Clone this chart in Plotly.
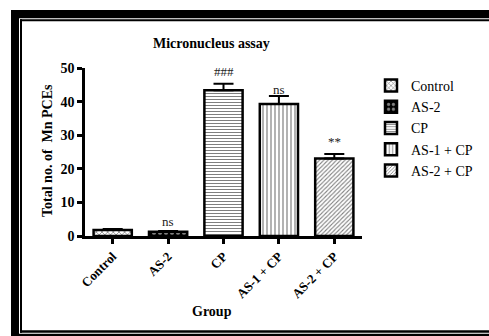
import plotly.graph_objects as go

groups = ["Control", "AS-2", "CP", "AS-1 + CP", "AS-2 + CP"]
means = [1.8, 1.3, 43.4, 39.3, 23.1]
errors = [0.25, 0.2, 1.9, 2.4, 1.3]
sig_labels = ["", "ns", "###", "ns", "**"]
sig_y = [None, 4.3, 49.1, 43.7, 28.1]
y_ticks = [0, 10, 20, 30, 40, 50]

patterns = [
    dict(shape="x", size=4, solidity=0.35, fgcolor="black", bgcolor="white"),
    dict(shape=".", size=6, solidity=0.35, fgcolor="white", bgcolor="black"),
    dict(shape="-", size=3, solidity=0.35, fgcolor="black", bgcolor="white"),
    dict(shape="|", size=4, solidity=0.3, fgcolor="black", bgcolor="white"),
    dict(shape="/", size=3, solidity=0.35, fgcolor="black", bgcolor="white"),
]

W, H = 489, 336
L, R, T, B = 85, 127, 68, 100
pw, ph = W - L - R, H - T - B

def px(x):
    return (x - L) / pw

def py(y):
    return (H - B - y) / ph

serif = "Liberation Serif, Times New Roman, serif"

fig = go.Figure()
for i, g in enumerate(groups):
    fig.add_trace(go.Bar(
        x=[g], y=[means[i]], name=g, width=0.69,
        marker=dict(color="white", line=dict(color="black", width=2.5),
                    pattern=patterns[i]),
        error_y=dict(type="data", symmetric=False, array=[errors[i]],
                     arrayminus=[0], color="black", thickness=2, width=10),
    ))

for i, g in enumerate(groups):
    if sig_labels[i]:
        fig.add_annotation(x=g, y=sig_y[i], text=sig_labels[i], showarrow=False,
                           xref="x", yref="y", xanchor="center", yanchor="middle",
                           font=dict(family=serif, size=13, color="#222"))

def label(x, y, text, size, angle=0):
    fig.add_annotation(x=px(x), y=py(y), xref="paper", yref="paper",
                       text=text, showarrow=False, textangle=angle,
                       xanchor="center", yanchor="middle",
                       font=dict(family=serif, size=size, color="black"))

label(211, 43, "<b>Micronucleus assay</b>", 14)
label(212, 311, "<b>Group</b>", 14)
label(47, 151, "<b>Total no. of  Mn PCEs</b>", 14, -90)

def rect(x0, y0, x1, y1):
    return dict(type="rect", xref="paper", yref="paper",
                x0=px(x0), x1=px(x1), y0=py(y0), y1=py(y1),
                fillcolor="black", line=dict(width=0), layer="above")

fig.update_layout(
    shapes=[
        rect(11, 10, 489, 18.3),
        rect(11, 10, 19, 336),
        rect(20, 19.3, 489, 21.3),
        rect(20, 19.3, 22, 332.7),
        rect(20, 330.3, 489, 332.7),
        rect(11, 333.7, 489, 336),
    ],
    width=W, height=H,
    margin=dict(l=L, r=R, t=T, b=B, autoexpand=False),
    paper_bgcolor="white", plot_bgcolor="white",
    barmode="overlay",
    font=dict(family=serif, color="black"),
    legend=dict(x=px(371), y=py(70), xanchor="left", yanchor="top",
                font=dict(family=serif, size=14, color="black"),
                bgcolor="rgba(0,0,0,0)", itemclick=False),
    xaxis=dict(type="category", categoryorder="array", categoryarray=groups,
               range=[-0.5, 4.5], showline=True, linecolor="black", linewidth=2.5,
               ticks="outside", ticklen=5, tickwidth=2.5, tickcolor="black",
               tickangle=-45, showgrid=False, zeroline=False,
               tickfont=dict(family=serif, size=13, color="black"),
               ticktext=["<b>%s</b>" % g for g in groups], tickvals=groups),
    yaxis=dict(range=[0, 50], tickvals=y_ticks,
               ticktext=["<b>%d</b>" % v for v in y_ticks],
               showline=True, linecolor="black", linewidth=2.5,
               ticks="outside", ticklen=5, tickwidth=2.5, tickcolor="black",
               showgrid=False, zeroline=False,
               tickfont=dict(family=serif, size=14, color="black")),
)

fig.write_html("out.html", config={"displayModeBar": False},
               post_script="document.body.style.margin='0';")
